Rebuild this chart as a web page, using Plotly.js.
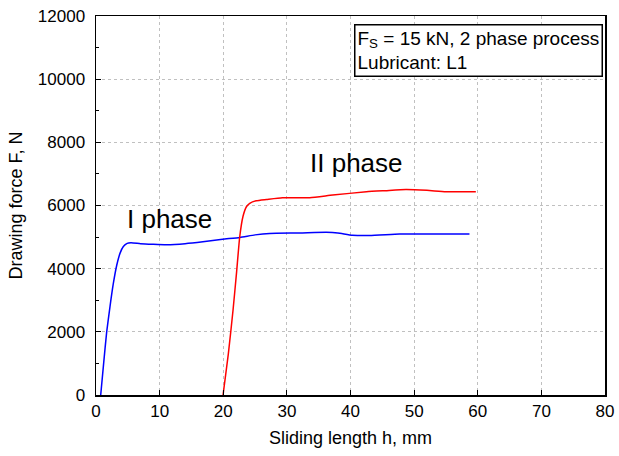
<!DOCTYPE html>
<html><head><meta charset="utf-8">
<script src="https://cdn.plot.ly/plotly-3.0.1.min.js"></script>
<style>body{margin:0;background:#fff}#c{width:619px;height:456px}</style>
</head><body><div id="c"></div>
<script>
const phase1X = [0.74, 1.2, 1.68, 2.2, 2.7, 3.25, 3.8, 4.3, 4.9, 5.5, 7, 9, 11.1, 14, 16.8, 19.9, 22.6, 25, 27.3, 32, 36.2, 38, 40.3, 43, 47.7, 52, 55, 58.7];
const phase1Y = [0, 1000, 2000, 2800, 3500, 4100, 4500, 4700, 4800, 4820, 4790, 4770, 4757, 4790, 4850, 4930, 4990, 5070, 5115, 5130, 5150, 5130, 5060, 5050, 5095, 5100, 5100, 5095];
const phase2X = [19.97, 20.8, 21.54, 22.1, 22.59, 23.1, 23.64, 24.16, 25.2, 26.8, 29.3, 33.6, 37.2, 42.5, 45.5, 48.7, 52, 55, 59.7];
const phase2Y = [0, 1300, 2690, 3900, 5010, 5650, 5960, 6065, 6150, 6190, 6245, 6245, 6330, 6435, 6470, 6505, 6480, 6435, 6435];
const labels = [{x: 11.5, y: 5570, t: 'I phase'}, {x: 40.9, y: 7350, t: 'II phase'}];

const traces = [
  {x: phase1X, y: phase1Y, mode: 'lines', line: {color: '#0000ff', width: 1.5, shape: 'spline', smoothing: 0.5}, showlegend: false},
  {x: phase2X, y: phase2Y, mode: 'lines', line: {color: '#ff0000', width: 1.5, shape: 'spline', smoothing: 0.5}, showlegend: false}
];
const ann = labels.map(l => ({x: l.x, y: l.y, xref: 'x', yref: 'y', text: l.t, showarrow: false, font: {size: 26, color: '#000'}}));
ann.push({x: 0.996, y: 0.979, xref: 'paper', yref: 'paper', xanchor: 'right', yanchor: 'top', align: 'left',
  text: 'F<sub>S</sub> = 15 kN, 2 phase process<br>Lubricant: L1', showarrow: false,
  font: {size: 19, color: '#000'}, bordercolor: '#000', borderwidth: 1.5, borderpad: 2, bgcolor: '#fff'});

const layout = {
  width: 619, height: 456,
  margin: {l: 96, r: 14, t: 16, b: 61},
  paper_bgcolor: '#fff', plot_bgcolor: '#fff',
  font: {family: 'Liberation Sans, Arial, sans-serif', color: '#000'},
  xaxis: {range: [0, 80], dtick: 10, tick0: 0, ticks: 'inside', ticklen: 5, tickcolor: '#000',
    showline: true, linecolor: '#000', linewidth: 1.5, mirror: true, zeroline: false,
    showgrid: true, gridcolor: '#c0c0c0', griddash: 'dot', gridwidth: 1,
    tickfont: {size: 17}, title: {text: 'Sliding length h, mm', font: {size: 18}, standoff: 11}},
  yaxis: {range: [0, 12000], dtick: 2000, tick0: 0, tickformat: 'd', ticks: 'inside', ticklen: 5, tickcolor: '#000',
    showline: true, linecolor: '#000', linewidth: 1.5, mirror: true, zeroline: false,
    showgrid: true, gridcolor: '#c0c0c0', griddash: 'dot', gridwidth: 1, ticklabelstandoff: 6,
    minor: {dtick: 1000, ticks: 'inside', ticklen: 3, tickcolor: '#000', showgrid: false},
    tickfont: {size: 17}, title: {text: 'Drawing force F, N', font: {size: 18}, standoff: 10}},
  annotations: ann
};
Plotly.newPlot('c', traces, layout, {displayModeBar: false, staticPlot: true});
</script></body></html>
